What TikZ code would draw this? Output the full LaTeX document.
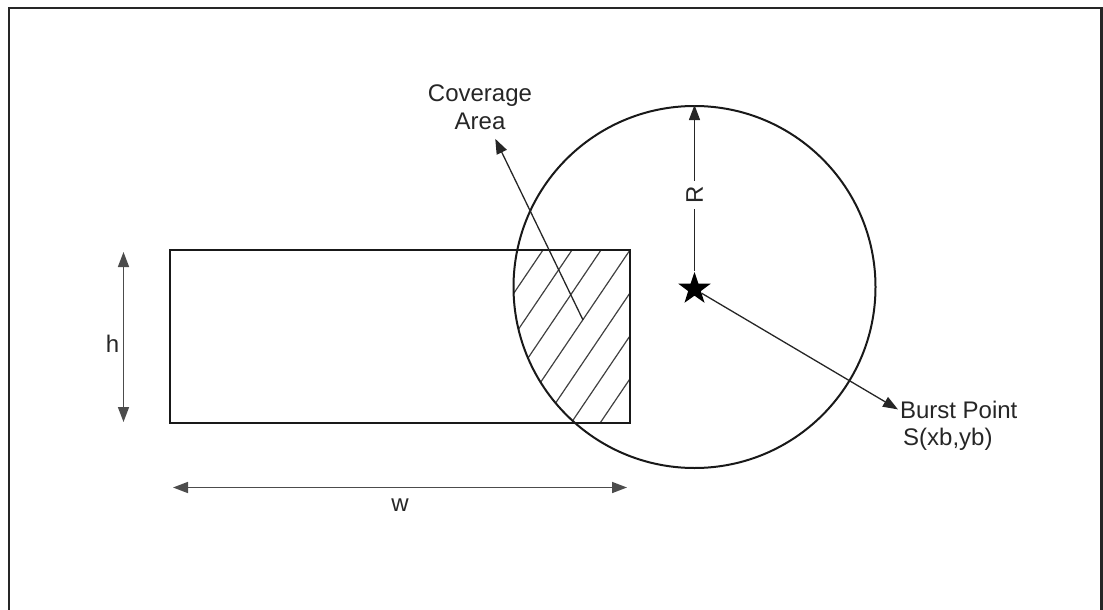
\documentclass[tikz,border=0pt]{standalone}
\usepackage{fontspec}
\setmainfont{Liberation Sans}
\usetikzlibrary{arrows.meta,shapes.geometric}
\begin{document}
\begin{tikzpicture}[x=1pt,y=-1pt,
  lbl/.style={font=\fontsize{24}{28}\selectfont, text=black!85, inner sep=0pt},
  arr/.style={line width=1.3pt, draw=black!85, -{Triangle[length=15pt,width=11pt]}},
  dimarr/.style={line width=1.6pt, draw=black!70, {Triangle[length=15pt,width=11pt]}-{Triangle[length=15pt,width=11pt]}},
  hatch/.style={line width=1.2pt, draw=black!75},
  outline/.style={draw=black!90, line width=2pt},
  frame/.style={draw=black!85, line width=2.6pt},
]
\useasboundingbox (0,0) rectangle (1103,610);
% frame (open at the bottom)
\draw[frame] (9,612) -- (9,8) -- (1101.5,8) -- (1101.5,612);

% hatched coverage area
\begin{scope}
  \clip (170,250) rectangle (630,423);
  \clip (694.5,287) circle[radius=181pt];
  \foreach \k in {-8,...,8} {
    \draw[hatch] ({630+29*\k-300},694) -- ({630+29*\k+300},-194);
  }
\end{scope}

% shapes
\node[outline, rectangle, minimum width=460pt, minimum height=173pt, inner sep=0pt] (field) at (400,336.5) {};
\node[outline, circle, minimum size=362pt, inner sep=0pt] (burstcircle) at (694.5,287) {};
\node[star, star points=5, star point ratio=2.55, fill=black, draw=none, minimum size=34pt, inner sep=0pt] (star) at (694.5,289) {};

% labels
\node[lbl, align=center, outer sep=9pt] (coverage) at (480,107.3) {Coverage\\Area};
\node[lbl, anchor=base west, outer sep=2pt] (burst) at (898,418) {Burst Point};
\node[lbl, anchor=base west] (burstxy) at (903,445) {S(xb,yb)};
\node[lbl] (hlabel) at (112.5,344) {h};
\node[lbl] (wlabel) at (400,505) {w};

% connectors
\coordinate (covtail) at (583,320);
\draw[arr] (covtail) -- (coverage);
\draw[arr] (star) -- (burst.west);
\draw[arr] (star) -- (burstcircle.north);
\node[lbl, rotate=90, fill=white, inner sep=5pt] (rlabel) at (694.5,195) {R};

% dimension arrows
\coordinate (h1) at (123.5,252);
\coordinate (h2) at (123.5,422);
\draw[dimarr] (h1) -- (h2);
\coordinate (w1) at (173,487.5);
\coordinate (w2) at (627,487.5);
\draw[dimarr] (w1) -- (w2);
\end{tikzpicture}
\end{document}
